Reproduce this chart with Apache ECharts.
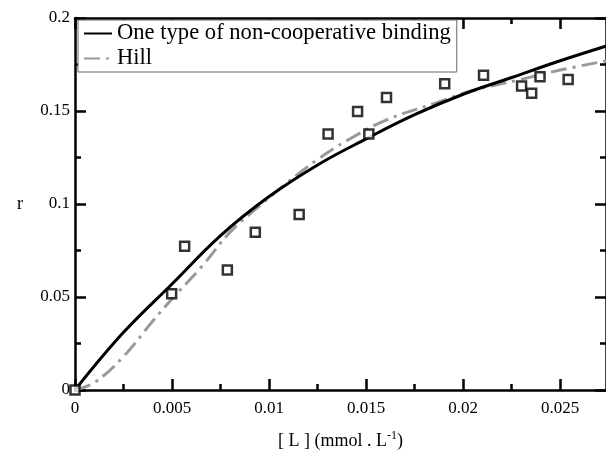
<!DOCTYPE html>
<html>
<head>
<meta charset="utf-8">
<script src="https://cdn.jsdelivr.net/npm/echarts@6/dist/echarts.min.js"></script>
<style>html,body{margin:0;padding:0;background:#fff}#c{width:606px;height:455px}</style>
</head>
<body>
<div id="c"></div>
<script>
// Measured data (squares)
var dataX = [0, 0.00498, 0.00565, 0.00785, 0.00929, 0.01155, 0.01304, 0.01456, 0.01514, 0.01605, 0.01905, 0.02105, 0.02301, 0.02353, 0.02396, 0.02541];
var dataR = [0, 0.0517, 0.0773, 0.0645, 0.0848, 0.0944, 0.1376, 0.1497, 0.1376, 0.1572, 0.1646, 0.1692, 0.1634, 0.1595, 0.1684, 0.1669];
// One type of non-cooperative binding curve
var oneX = [0, 0.0025, 0.005, 0.0075, 0.01, 0.0125, 0.015, 0.0175, 0.02, 0.0225, 0.025, 0.0274];
var oneR = [0, 0.031, 0.057, 0.083, 0.104, 0.121, 0.135, 0.148, 0.159, 0.168, 0.177, 0.185];
// Hill curve
var hillX = [0, 0.001, 0.0025, 0.004, 0.005, 0.0065, 0.008, 0.0095, 0.011, 0.0125, 0.014, 0.016, 0.0185, 0.0205, 0.023, 0.025, 0.0274];
var hillR = [0, 0.004, 0.018, 0.037, 0.049, 0.066, 0.085, 0.099, 0.112, 0.124, 0.134, 0.145, 0.154, 0.161, 0.167, 0.172, 0.177];
// Tick values
var xMajor = [0, 0.005, 0.01, 0.015, 0.02, 0.025];
var xMinor = [0.0025, 0.0075, 0.0125, 0.0175, 0.0225];
var yMajor = [0, 0.05, 0.1, 0.15, 0.2];
var yMinor = [0.025, 0.075, 0.125, 0.175];
var xLabels = ['0', '0.005', '0.01', '0.015', '0.02', '0.025'];
var yLabels = ['0', '0.05', '0.1', '0.15', '0.2'];
var seriesNames = ['One type of non-cooperative binding', 'Hill'];

function zip(a, b) { return a.map(function (v, i) { return [v, b[i]]; }); }
var XMIN = 0, XMAX = 0.02736, YMIN = 0, YMAX = 0.2;
var font = 'Liberation Serif';
var labStyle = { fontFamily: font, fontSize: 17, color: '#000' };

function xAx(pos, vals, len, labels, showLine) {
  return {
    type: 'value', position: pos, min: XMIN, max: XMAX,
    axisLine: { show: showLine, onZero: false, lineStyle: { color: '#000', width: 2.5 } },
    axisTick: { show: true, inside: true, length: len, customValues: vals, lineStyle: { color: '#000', width: 2.5 } },
    axisLabel: labels ? Object.assign({ show: true, margin: 10, customValues: vals,
      formatter: function (v) { var i = xMajor.findIndex(function (m) { return Math.abs(m - v) < 1e-9; }); return i >= 0 ? xLabels[i] : ''; } }, labStyle) : { show: false },
    splitLine: { show: false }, minorTick: { show: false }
  };
}
function yAx(pos, vals, len, labels, showLine) {
  return {
    type: 'value', position: pos, min: YMIN, max: YMAX,
    axisLine: { show: showLine, onZero: false, lineStyle: { color: '#000', width: 2.5 } },
    axisTick: { show: true, inside: true, length: len, customValues: vals, lineStyle: { color: '#000', width: 2.5 } },
    axisLabel: labels ? Object.assign({ show: true, margin: 5, customValues: vals,
      formatter: function (v) { var i = yMajor.findIndex(function (m) { return Math.abs(m - v) < 1e-9; }); return i >= 0 ? yLabels[i] : ''; } }, labStyle) : { show: false },
    splitLine: { show: false }, minorTick: { show: false }
  };
}

var xAxes = [xAx('bottom', xMajor, 11, true, true), xAx('bottom', xMinor, 6, false, false), xAx('top', xMajor, 11, false, true), xAx('top', xMinor, 6, false, false)];
xAxes[0].name = '[ L ] (mmol . L{sup|-1})';
xAxes[0].nameLocation = 'middle';
xAxes[0].nameGap = 40;
xAxes[0].nameTextStyle = { fontFamily: font, fontSize: 18, color: '#000', rich: { sup: { fontFamily: font, fontSize: 12, verticalAlign: 'top', padding: [0, 0, 10, 0], color: '#000' } } };
var yAxes = [yAx('left', yMajor, 11, true, true), yAx('left', yMinor, 6, false, false), yAx('right', yMajor, 11, false, true), yAx('right', yMinor, 6, false, false)];
yAxes[0].name = 'r';
yAxes[0].nameLocation = 'middle';
yAxes[0].nameGap = 52;
yAxes[0].nameRotate = 0;
yAxes[0].nameTextStyle = { fontFamily: font, fontSize: 18, color: '#000', padding: [6, 0, 0, 0] };

var chart = echarts.init(document.getElementById('c'), null, { renderer: 'canvas' });
chart.setOption({
  animation: false,
  backgroundColor: '#fff',
  grid: { left: 75, top: 18, right: -3, bottom: 62, containLabel: false },
  xAxis: xAxes,
  yAxis: yAxes,
  legend: {
    left: 78, top: 20, orient: 'vertical',
    data: seriesNames,
    itemWidth: 28, itemHeight: 14, itemGap: 2,
    padding: [2, 6, 2, 5],
    borderColor: '#666', borderWidth: 1, backgroundColor: '#fff',
    itemStyle: { opacity: 0 },
    textStyle: { fontFamily: font, fontSize: 22.6, color: '#000' }
  },
  series: [
    {
      name: seriesNames[0], type: 'line', data: zip(oneX, oneR), smooth: 0.4,
      symbol: 'none', clip: true, z: 3,
      lineStyle: { color: '#000', width: 3 }, itemStyle: { color: '#000' }
    },
    {
      name: seriesNames[1], type: 'line', data: zip(hillX, hillR), smooth: 0.4,
      symbol: 'none', clip: true, z: 2,
      lineStyle: { color: '#999', width: 3, type: [16, 6, 3, 6] }, itemStyle: { color: '#999' }
    },
    {
      name: 'data', type: 'scatter', data: zip(dataX, dataR),
      symbol: 'rect', symbolSize: 9, clip: false, z: 5,
      itemStyle: { color: '#fff', borderColor: '#000', borderWidth: 2.5 }
    }
  ]
});
</script>
</body>
</html>
